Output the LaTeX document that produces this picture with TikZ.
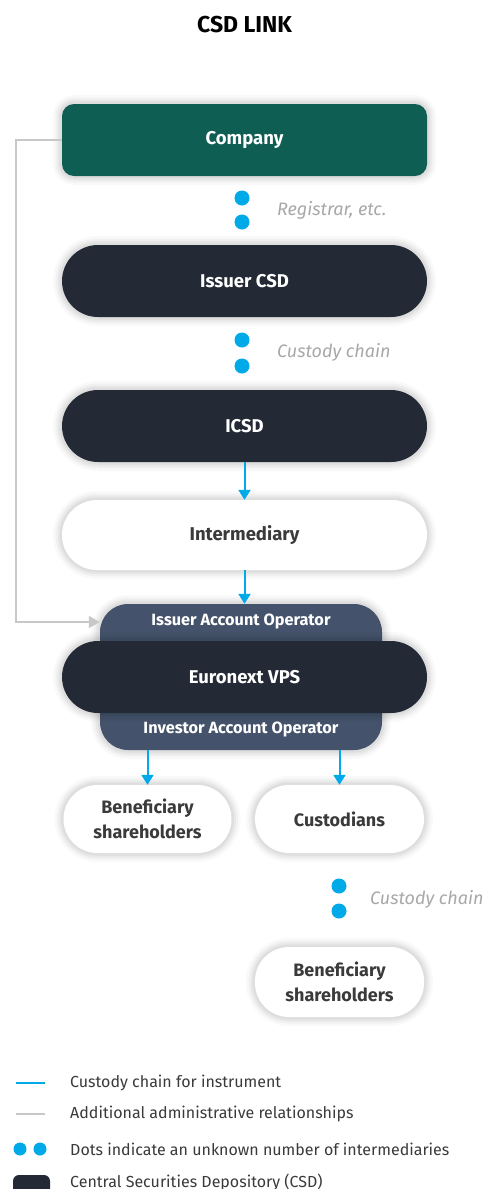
\documentclass[tikz,border=0pt]{standalone}
\usepackage{fontspec}
\setmainfont{Fira Sans}
\usetikzlibrary{arrows.meta}
\definecolor{cgreen}{HTML}{0F5E54}
\definecolor{cdark}{HTML}{232935}
\definecolor{cop}{HTML}{44536B}
\definecolor{cblue}{HTML}{00A9E8}
\definecolor{cline}{HTML}{C8C8C8}
\definecolor{clabel}{HTML}{A8A8A8}
\definecolor{ctext}{HTML}{3A3A3A}
\tikzset{
  shad/.style={
    preaction={draw=black,draw opacity=0.025,line width=18pt},
    preaction={draw=black,draw opacity=0.03,line width=13pt},
    preaction={draw=black,draw opacity=0.035,line width=9pt},
    preaction={draw=black,draw opacity=0.04,line width=5pt}},
  box/.style={shad,minimum width=365pt,minimum height=72pt,inner sep=0pt,align=center,font=\bfseries\fontsize{18.5}{24}\selectfont},
  greenbox/.style={box,fill=cgreen,text=white,rounded corners=12pt},
  darkbox/.style={box,fill=cdark,text=white,rounded corners=36pt},
  whitebox/.style={box,fill=white,text=ctext,rounded corners=35pt},
  smallbox/.style={shad,fill=white,text=ctext,minimum width=168pt,minimum height=68pt,rounded corners=34pt,inner sep=0pt,align=center,font=\bfseries\fontsize{18}{25}\selectfont},
  opbox/.style={shad,fill=cop,minimum width=282pt,minimum height=146pt,rounded corners=28pt,inner sep=0pt},
  oplabel/.style={text=white,font=\bfseries\fontsize{16.3}{19}\selectfont,inner sep=1pt},
  dot/.style={circle,fill=cblue,minimum size=15pt,inner sep=0pt},
  dotlabel/.style={anchor=west,text=clabel,font=\itshape\fontsize{18}{21}\selectfont,inner sep=0pt},
  blue/.style={draw=cblue,line width=2pt,-{Triangle[width=12pt,length=10pt]}},
  grey/.style={draw=cline,line width=1.6pt,-{Triangle[width=12pt,length=11pt]}},
  legtext/.style={anchor=west,text=ctext,font=\fontsize{16}{19}\selectfont,inner sep=0pt}
}
\begin{document}
\begin{tikzpicture}[x=1pt,y=-1pt]
\useasboundingbox[fill=white] (0,0) rectangle (489,1189);
\node[font=\bfseries\fontsize{23}{27}\selectfont,text=black] (title) at (244.5,25) {CSD LINK};

\node[greenbox] (company) at (244.5,140) {Company};
\node[dot] (d1a) at (242,198) {};
\node[dot] (d1b) at (242,222) {};
\node[dotlabel] (l1) at (277,210) {Registrar, etc.};

\node[darkbox] (issuer) at (244.5,281) {Issuer CSD};
\node[dot] (d2a) at (242,340) {};
\node[dot] (d2b) at (242,366) {};
\node[dotlabel] (l2) at (277,352) {Custody chain};

\node[darkbox] (icsd) at (244.5,426) {ICSD};
\node[whitebox,minimum height=70pt] (inter) at (244.5,535) {Intermediary};

\node[opbox] (ops) at (241,677) {};
\node[oplabel] (iao) at (241,622) {Issuer Account Operator};
\node[oplabel] (inao) at (241,730) {Investor Account Operator};
\node[darkbox] (vps) at (244.5,677) {Euronext VPS};

\node[smallbox] (ben1) at (147.5,819) {Beneficiary\\shareholders};
\node[smallbox,minimum width=169pt] (cust) at (339.5,819) {Custodians};
\node[dot] (d3a) at (339,886) {};
\node[dot] (d3b) at (339,911) {};
\node[dotlabel] (l3) at (370,899) {Custody chain};
\node[smallbox,minimum width=169pt,minimum height=70pt] (ben2) at (339.5,982) {Beneficiary\\shareholders};

% connectors
\draw[blue] (icsd.south) -- (inter.north);
\draw[blue] (inter.south) -- (ops.north -| inter.south);
\draw[blue] (ops.south -| ben1.north) -- (ben1.north);
\draw[blue] (ops.south -| cust.north) -- (cust.north);
\coordinate (gcorner) at (16,140);
\draw[grey] (company.west) -- (gcorner) |- (ops.west |- iao);

% legend
\coordinate (lb1) at (16,1083);
\coordinate (lb2) at (45,1083);
\draw[draw=cblue,line width=2pt] (lb1) -- (lb2);
\node[legtext] (t1) at (70,1083) {Custody chain for instrument};
\coordinate (lg1) at (16,1114);
\coordinate (lg2) at (45,1114);
\draw[draw=cline,line width=2pt] (lg1) -- (lg2);
\node[legtext] (t2) at (70,1114) {Additional administrative relationships};
\node[dot,minimum size=13pt] (ld1) at (20,1149) {};
\node[dot,minimum size=13pt] (ld2) at (40,1149) {};
\node[legtext] (t3) at (70,1149) {Dots indicate an unknown number of intermediaries};
\begin{scope}
\clip (0,0) rectangle (489,1189);
\fill[cdark,rounded corners=6pt] (13,1175) rectangle (50,1200);
\end{scope}
\node[legtext] (t4) at (70,1182) {Central Securities Depository (CSD)};
\end{tikzpicture}
\end{document}
